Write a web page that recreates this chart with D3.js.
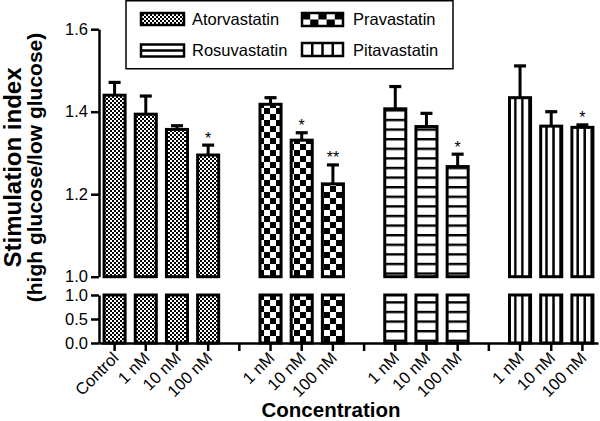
<!DOCTYPE html>
<html><head><meta charset="utf-8">
<script src="https://cdn.jsdelivr.net/npm/d3@7"></script>
<style>
body{margin:0;background:#fff;}
text{font-family:"Liberation Sans",Arial,Helvetica,sans-serif;}
</style></head>
<body>
<script>
// ---- data ----
const categories = ["Control","1 nM","10 nM","100 nM","","1 nM","10 nM","100 nM","","1 nM","10 nM","100 nM","","1 nM","10 nM","100 nM"];
const drugs = ["Atorvastatin","Pravastatin","Rosuvastatin","Pitavastatin"];
const atorMean = [1.440,1.394,1.357,1.295];
const atorErr  = [0.031,0.044,0.009,0.024];
const atorSig  = ["","","","*"];
const pravaMean = [1.418,1.331,1.225];
const pravaErr  = [0.016,0.018,0.046];
const pravaSig  = ["","*","**"];
const rosuMean = [1.407,1.364,1.267];
const rosuErr  = [0.054,0.032,0.030];
const rosuSig  = ["","","*"];
const pitaMean = [1.434,1.365,1.362];
const pitaErr  = [0.077,0.035,0.006];
const pitaSig  = ["","","*"];
const topTicks = [1.0,1.2,1.4,1.6];
const botTicks = [0.0,0.5,1.0];

const W=600,H=421;
const svg=d3.select("body").append("svg").attr("width",W).attr("height",H);
const defs=svg.append("defs");

// patterns
const pA=defs.append("pattern").attr("id","pat-Atorvastatin").attr("patternUnits","userSpaceOnUse").attr("width",4).attr("height",4);
pA.append("rect").attr("width",4).attr("height",4).attr("fill","#fff");
pA.append("rect").attr("width",2).attr("height",2).attr("fill","#000");
pA.append("rect").attr("x",2).attr("y",2).attr("width",2).attr("height",2).attr("fill","#000");

const pP=defs.append("pattern").attr("id","pat-Pravastatin").attr("patternUnits","userSpaceOnUse").attr("width",12).attr("height",12);
pP.append("rect").attr("width",12).attr("height",12).attr("fill","#fff");
pP.append("rect").attr("width",6).attr("height",6).attr("fill","#000");
pP.append("rect").attr("x",6).attr("y",6).attr("width",6).attr("height",6).attr("fill","#000");

const pR=defs.append("pattern").attr("id","pat-Rosuvastatin").attr("patternUnits","userSpaceOnUse").attr("y",3.6).attr("width",10).attr("height",9.6);
pR.append("rect").attr("width",10).attr("height",9.6).attr("fill","#fff");
pR.append("rect").attr("width",10).attr("height",2.4).attr("fill","#000");

const pT=defs.append("pattern").attr("id","pat-Pitavastatin").attr("patternUnits","objectBoundingBox").attr("width",1/3).attr("height",1);
pT.append("rect").attr("width",20).attr("height",1000).attr("fill","#fff");
pT.append("rect").attr("x",4.6).attr("width",2.6).attr("height",1000).attr("fill","#000");

// scales
const x=d3.scaleBand().domain(d3.range(categories.length)).range([99,598]);
const yTop=d3.scaleLinear().domain([1,1.6]).range([276.7,29.2]);
const yBot=d3.scaleLinear().domain([0,1]).range([343,295]);

// bars data
const bars=[];
function addGroup(start,drug,m,e,s){m.forEach((v,i)=>bars.push({idx:start+i,drug,mean:v,err:e[i],sig:s[i]}));}
addGroup(0,"Atorvastatin",atorMean,atorErr,atorSig);
addGroup(5,"Pravastatin",pravaMean,pravaErr,pravaSig);
addGroup(9,"Rosuvastatin",rosuMean,rosuErr,rosuSig);
addGroup(13,"Pitavastatin",pitaMean,pitaErr,pitaSig);

const bw=x.bandwidth()*0.675;
const cx=i=>x(i)+x.bandwidth()/2;

const g=svg.append("g");
// upper bars
g.selectAll("rect.up").data(bars).join("rect").attr("class","up")
 .attr("x",d=>cx(d.idx)-bw/2).attr("width",bw)
 .attr("y",d=>yTop(d.mean)).attr("height",d=>yTop(1)-yTop(d.mean))
 .attr("fill",d=>`url(#pat-${d.drug})`).attr("stroke","#000").attr("stroke-width",3);
// lower bars
g.selectAll("rect.lo").data(bars).join("rect").attr("class","lo")
 .attr("x",d=>cx(d.idx)-bw/2).attr("width",bw)
 .attr("y",yBot(1)).attr("height",yBot(0)-yBot(1))
 .attr("fill",d=>`url(#pat-${d.drug})`).attr("stroke","#000").attr("stroke-width",3);
// error bars
g.selectAll("line.eb").data(bars).join("line").attr("class","eb")
 .attr("x1",d=>cx(d.idx)).attr("x2",d=>cx(d.idx))
 .attr("y1",d=>yTop(d.mean)).attr("y2",d=>yTop(d.mean+d.err))
 .attr("stroke","#000").attr("stroke-width",3);
g.selectAll("line.cap").data(bars).join("line").attr("class","cap")
 .attr("x1",d=>cx(d.idx)-6).attr("x2",d=>cx(d.idx)+6)
 .attr("y1",d=>yTop(d.mean+d.err)).attr("y2",d=>yTop(d.mean+d.err))
 .attr("stroke","#000").attr("stroke-width",3.2);
// significance
g.selectAll("text.sig").data(bars.filter(d=>d.sig)).join("text").attr("class","sig")
 .attr("x",d=>cx(d.idx)).attr("y",d=>yTop(d.mean+d.err)-1.5)
 .attr("text-anchor","middle").attr("font-size",16).text(d=>d.sig);

// axes
function styleAxis(sel){
  sel.selectAll("path.domain").attr("stroke-width",2.5);
  sel.selectAll(".tick line").attr("stroke-width",2.5);
  sel.selectAll("text").attr("font-size",16.5).attr("fill","#000").attr("font-family",'"Liberation Sans",Arial,sans-serif');
}
const axT=svg.append("g").attr("transform","translate(99,0)")
 .call(d3.axisLeft(yTop).tickValues(topTicks).tickFormat(d3.format(".1f")).tickSize(8).tickSizeOuter(0));
styleAxis(axT);
const axB=svg.append("g").attr("transform","translate(99,0)")
 .call(d3.axisLeft(yBot).tickValues(botTicks).tickFormat(d3.format(".1f")).tickSize(8).tickSizeOuter(0));
styleAxis(axB);
const axX=svg.append("g").attr("transform","translate(0,343)")
 .call(d3.axisBottom(x).tickFormat(i=>categories[i]).tickSize(8).tickSizeOuter(0));
styleAxis(axX);
axX.selectAll(".tick text").attr("y",0).attr("dy",null).attr("text-anchor","end")
 .attr("font-size",16.5)
 .attr("transform","translate(5,16) rotate(-45)");

// axis titles
svg.append("text").attr("x",331).attr("y",416.5).attr("text-anchor","middle")
 .attr("font-size",20.5).attr("font-weight","bold").text("Concentration");
svg.append("text").attr("transform","translate(21,167.5) rotate(-90)").attr("text-anchor","middle")
 .attr("font-size",24).attr("font-weight","bold").text("Stimulation index");
svg.append("text").attr("transform","translate(41.5,167.5) rotate(-90)").attr("text-anchor","middle")
 .attr("font-size",21).attr("font-weight","bold").text("(high glucose/low glucose)");

// legend
const lg=svg.append("g");
lg.append("rect").attr("x",126).attr("y",0.75).attr("width",327).attr("height",68)
 .attr("fill","#fff").attr("stroke","#000").attr("stroke-width",1.5);
const legPos=[
 {drug:"Atorvastatin",x:141,y:13,w:43,h:12,tx:192,ty:25},
 {drug:"Pravastatin",x:302,y:13,w:41,h:13,tx:353,ty:25},
 {drug:"Rosuvastatin",x:141,y:44.5,w:43,h:12,tx:192,ty:56},
 {drug:"Pitavastatin",x:302,y:43,w:41,h:13,tx:353,ty:56}
];
legPos.forEach(p=>{
  const fill = p.drug==="Atorvastatin" ? "url(#pat-Atorvastatin)" : "#fff";
  const r=lg.append("g");
  if(p.drug==="Pravastatin"){
    const cw=p.w/5, ch=p.h/2;
    r.append("rect").attr("x",p.x).attr("y",p.y).attr("width",p.w).attr("height",p.h).attr("fill","#fff");
    for(let c=0;c<5;c++)for(let rr=0;rr<2;rr++){ if((c+rr)%2===0)
      r.append("rect").attr("x",p.x+c*cw).attr("y",p.y+rr*ch).attr("width",cw).attr("height",ch).attr("fill","#000");}
    r.append("rect").attr("x",p.x).attr("y",p.y).attr("width",p.w).attr("height",p.h).attr("fill","none").attr("stroke","#000").attr("stroke-width",2.5);
  } else {
    r.append("rect").attr("x",p.x).attr("y",p.y).attr("width",p.w).attr("height",p.h).attr("fill",fill).attr("stroke","#000").attr("stroke-width",2.5);
  }
  if(p.drug==="Rosuvastatin"){
    r.append("line").attr("x1",p.x).attr("x2",p.x+p.w).attr("y1",p.y+p.h/2).attr("y2",p.y+p.h/2).attr("stroke","#000").attr("stroke-width",2.5);
  }
  if(p.drug==="Pitavastatin"){
    [1,2,3].forEach(k=>r.append("line").attr("x1",p.x+k*p.w/4).attr("x2",p.x+k*p.w/4).attr("y1",p.y).attr("y2",p.y+p.h).attr("stroke","#000").attr("stroke-width",2.5));
  }
  lg.append("text").attr("x",p.tx).attr("y",p.ty).attr("font-size",16.5).text(p.drug);
});
</script>
</body></html>
